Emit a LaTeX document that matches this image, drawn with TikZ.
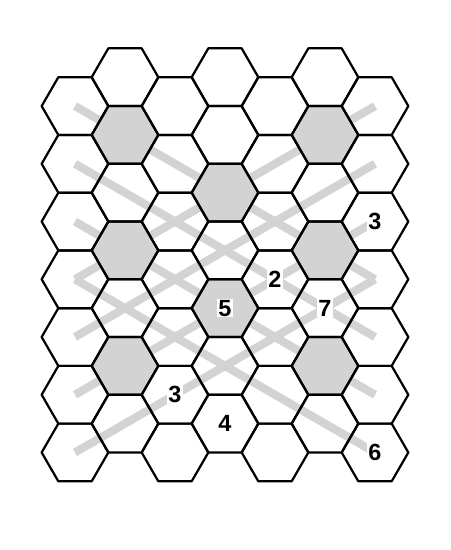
\documentclass[tikz,border=0pt]{standalone}
\usepackage{fontspec}
\setmainfont{Liberation Sans}
\definecolor{cellgray}{RGB}{211,211,211}
\tikzset{
	hexcell/.style={draw=black, line width=1.9pt, line join=round},
	shadecell/.style={fill=cellgray},
	trackline/.style={draw=cellgray, line width=7pt},
	num/.style={fill=white, inner sep=1pt, font=\fontsize{20}{24}\selectfont\bfseries}
}
\begin{document}
\begin{tikzpicture}[x=1cm,y=1cm]
	\useasboundingbox (-2.25,2.316) rectangle (11.25,-14.184);
	\foreach \c in {0,...,6}{
		\foreach \k in {0,...,6}{
			\pgfmathsetmacro\yy{-1.7320508*\k - 0.8660254*(1-mod(\c,2))}
			\coordinate (h\c\k) at ({1.5*\c},\yy);
		}
	}
	
	\foreach \c/\k in {1/1,5/1,3/2,1/3,5/3,3/4,1/5,5/5}
		\fill[shadecell] (h\c\k) +(0:1) -- +(60:1) -- +(120:1) -- +(180:1) -- +(240:1) -- +(300:1) -- cycle;
	
	\draw[trackline] (h00) -- (h63);
	\draw[trackline] (h01) -- (h64);
	\draw[trackline] (h02) -- (h65);
	\draw[trackline] (h03) -- (h66);
	\draw[trackline] (h03) -- (h60);
	\draw[trackline] (h04) -- (h61);
	\draw[trackline] (h05) -- (h62);
	\draw[trackline] (h06) -- (h63);
	
	\foreach \c in {0,...,6}{
		\foreach \k in {0,...,6}{
			\draw[hexcell] (h\c\k) +(0:1) -- +(60:1) -- +(120:1) -- +(180:1) -- +(240:1) -- +(300:1) -- cycle;
		}
	}
	
	\node[num] (numA) at (h62) {3};
	\node[num] (numB) at (h43) {2};
	\node[num] (numC) at (h34) {5};
	\node[num] (numD) at (h54) {7};
	\node[num] (numE) at (h25) {3};
	\node[num] (numF) at (h36) {4};
	\node[num] (numG) at (h66) {6};
\end{tikzpicture}
\end{document}
